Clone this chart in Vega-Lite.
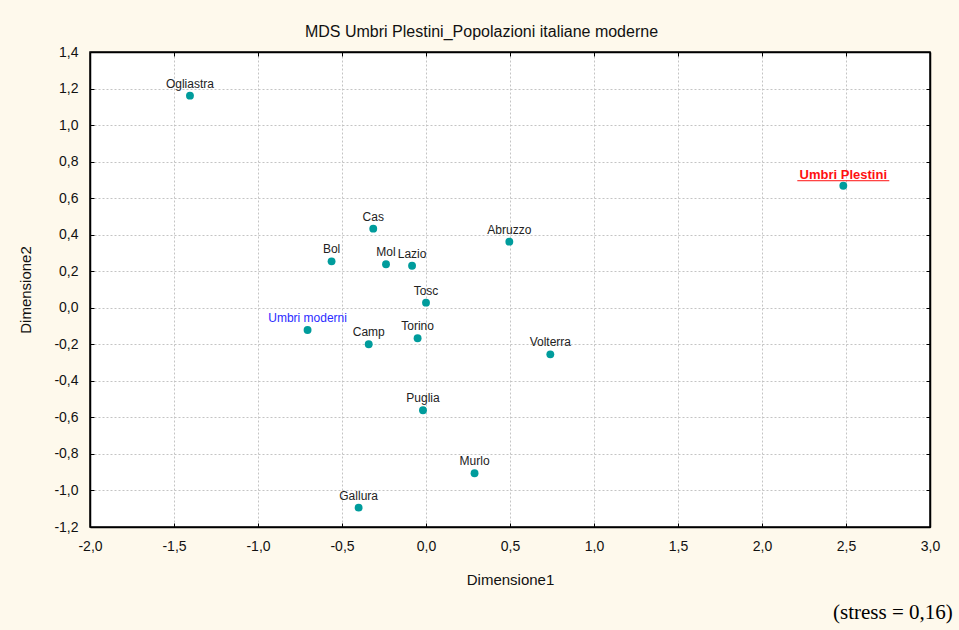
{
  "$schema": "https://vega.github.io/schema/vega-lite/v6.json",
  "width": 840,
  "height": 475,
  "autosize": {"type": "none"},
  "padding": {"left": 90, "top": 52, "right": 29, "bottom": 103},
  "background": "#FEF9EC",
  "title": {
    "text": "(stress = 0,16)",
    "orient": "bottom",
    "anchor": "end",
    "font": "Liberation Serif",
    "fontSize": 21,
    "fontWeight": "normal",
    "color": "#000000",
    "dx": 13,
    "offset": 15
  },
  "config": {
    "view": {"fill": "white", "stroke": "black", "strokeWidth": 1.5},
    "axis": {
      "domainColor": "#000000",
      "domainWidth": 1.5,
      "tickColor": "#000000",
      "tickSize": -4,
      "tickWidth": 1,
      "gridColor": "#c4c4c4",
      "gridDash": [2, 2],
      "gridWidth": 1,
      "labelFlush": false,
      "labelOverlap": false,
      "labelFont": "Liberation Sans",
      "labelFontSize": 14,
      "labelColor": "#111111",
      "titleFont": "Liberation Sans",
      "titleFontSize": 15,
      "titleFontWeight": "normal",
      "titleColor": "#111111"
    },
    "text": {"font": "Liberation Sans"}
  },
  "data": {
    "values": [
      {"name": "Ogliastra", "d1": -1.405, "d2": 1.161, "group": "moderne"},
      {"name": "Umbri Plestini", "d1": 2.484, "d2": 0.668, "group": "plestini"},
      {"name": "Cas", "d1": -0.314, "d2": 0.433, "group": "moderne"},
      {"name": "Abruzzo", "d1": 0.496, "d2": 0.362, "group": "moderne"},
      {"name": "Bol", "d1": -0.562, "d2": 0.254, "group": "moderne"},
      {"name": "Mol", "d1": -0.238, "d2": 0.238, "group": "moderne"},
      {"name": "Lazio", "d1": -0.083, "d2": 0.230, "group": "moderne"},
      {"name": "Tosc", "d1": 0.0, "d2": 0.028, "group": "moderne"},
      {"name": "Umbri moderni", "d1": -0.705, "d2": -0.122, "group": "umbri"},
      {"name": "Camp", "d1": -0.341, "d2": -0.200, "group": "moderne"},
      {"name": "Torino", "d1": -0.050, "d2": -0.167, "group": "moderne"},
      {"name": "Volterra", "d1": 0.740, "d2": -0.255, "group": "moderne"},
      {"name": "Puglia", "d1": -0.018, "d2": -0.561, "group": "moderne"},
      {"name": "Murlo", "d1": 0.289, "d2": -0.906, "group": "moderne"},
      {"name": "Gallura", "d1": -0.401, "d2": -1.094, "group": "moderne"}
    ]
  },
  "layer": [
    {
      "mark": {"type": "circle", "size": 62, "opacity": 1, "color": "#009C9C"},
      "encoding": {
        "x": {
          "field": "d1",
          "type": "quantitative",
          "scale": {"domain": [-2, 3], "nice": false, "zero": false},
          "axis": {
            "orient": "bottom",
            "title": "Dimensione1",
            "values": [-2, -1.5, -1, -0.5, 0, 0.5, 1, 1.5, 2, 2.5, 3],
            "labelExpr": "replace(replace(format(datum.value, '.1f'), '.', ','), '\u2212', '-')",
            "labelPadding": 16,
            "titlePadding": 19
          }
        },
        "y": {
          "field": "d2",
          "type": "quantitative",
          "scale": {"domain": [-1.2, 1.4], "nice": false, "zero": false},
          "axis": {
            "orient": "left",
            "title": "Dimensione2",
            "values": [-1.2, -1, -0.8, -0.6, -0.4, -0.2, 0, 0.2, 0.4, 0.6, 0.8, 1, 1.2, 1.4],
            "labelExpr": "replace(replace(format(datum.value, '.1f'), '.', ','), '\u2212', '-')",
            "labelPadding": 16,
            "titlePadding": 20
          }
        }
      }
    },
    {
      "mark": {"type": "circle", "opacity": 0},
      "encoding": {
        "x": {
          "field": "d1",
          "type": "quantitative",
          "scale": {"domain": [-2, 3], "nice": false, "zero": false},
          "axis": {
            "orient": "top",
            "title": "MDS Umbri Plestini_Popolazioni italiane moderne",
            "titleFontSize": 16,
            "titleX": 391,
            "titleAlign": "center",
            "titlePadding": 12,
            "values": [-2, -1.5, -1, -0.5, 0, 0.5, 1, 1.5, 2, 2.5, 3],
            "labels": false,
            "grid": false
          }
        },
        "y": {
          "field": "d2",
          "type": "quantitative",
          "scale": {"domain": [-1.2, 1.4], "nice": false, "zero": false},
          "axis": {
            "orient": "right",
            "title": null,
            "values": [-1.2, -1, -0.8, -0.6, -0.4, -0.2, 0, 0.2, 0.4, 0.6, 0.8, 1, 1.2, 1.4],
            "labels": false,
            "grid": false
          }
        }
      }
    },
    {
      "transform": [{"filter": "datum.group === 'moderne'"}],
      "mark": {"type": "text", "baseline": "alphabetic", "align": "center", "dy": -8, "fontSize": 12, "color": "#222222"},
      "encoding": {
        "x": {"field": "d1", "type": "quantitative", "axis": null},
        "y": {"field": "d2", "type": "quantitative", "axis": null},
        "text": {"field": "name"}
      }
    },
    {
      "transform": [{"filter": "datum.group === 'umbri'"}],
      "mark": {"type": "text", "baseline": "alphabetic", "align": "center", "dy": -8, "fontSize": 12, "color": "#2B2BFF"},
      "encoding": {
        "x": {"field": "d1", "type": "quantitative", "axis": null},
        "y": {"field": "d2", "type": "quantitative", "axis": null},
        "text": {"field": "name"}
      }
    },
    {
      "transform": [{"filter": "datum.group === 'plestini'"}],
      "mark": {"type": "text", "baseline": "alphabetic", "align": "center", "dy": -7, "fontSize": 13, "fontWeight": "bold", "color": "#FF1010"},
      "encoding": {
        "x": {"field": "d1", "type": "quantitative", "axis": null},
        "y": {"field": "d2", "type": "quantitative", "axis": null},
        "text": {"field": "name"}
      }
    },
    {
      "transform": [{"filter": "datum.group === 'plestini'"}],
      "mark": {"type": "rule", "color": "#FF1010", "strokeWidth": 1, "xOffset": -46, "x2Offset": 46, "yOffset": -5},
      "encoding": {
        "x": {"field": "d1", "type": "quantitative", "axis": null},
        "x2": {"field": "d1"},
        "y": {"field": "d2", "type": "quantitative", "axis": null}
      }
    }
  ],
  "resolve": {"axis": {"x": "independent", "y": "independent"}}
}
